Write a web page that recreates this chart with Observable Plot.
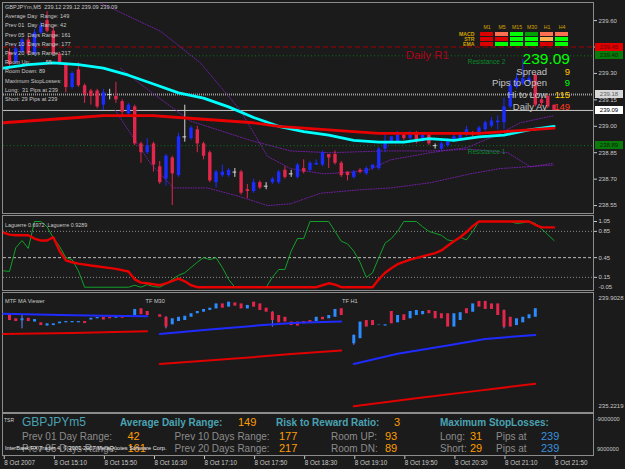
<!DOCTYPE html>
<html>
<head>
<meta charset="utf-8">
<script src="https://cdn.jsdelivr.net/npm/d3@7"></script>
<script src="https://cdn.jsdelivr.net/npm/@observablehq/plot@0.6"></script>
<style>
  html, body { margin:0; padding:0; background:#000; }
  #root { position:relative; width:625px; height:469px; background:#1b1b1b; overflow:hidden; font-family:'Liberation Sans', Arial, sans-serif; }
  .panel { position:absolute; border:1px solid #8c8c8c; box-sizing:border-box; }
  .layer { position:absolute; }
  .t { position:absolute; white-space:pre; }
</style>
</head>
<body>
<div id="root"></div>
<script>
// ---------------- DATA ----------------
// main M5 candles (bar index 0..87)
const candleOpen  = [239.42,239.36,239.42,239.49,239.41,239.53,239.60,239.54,239.41,239.35,239.22,239.32,239.23,239.20,239.20,239.12,239.18,239.17,239.14,239.07,239.11,238.90,238.85,238.90,238.77,238.70,238.82,238.72,238.94,238.93,238.98,238.90,238.85,238.68,238.72,238.72,238.74,238.74,238.64,238.63,238.68,238.66,238.68,238.68,238.75,238.73,238.71,238.76,238.75,238.78,238.78,238.84,238.84,238.79,238.74,238.71,238.75,238.73,238.76,238.76,238.87,238.91,238.91,238.95,238.93,238.96,238.92,238.95,238.89,238.87,238.89,238.92,238.93,238.95,238.96,238.96,238.98,239.00,239.02,239.02,239.11,239.22,239.24,239.25,239.29,239.15,239.17,239.12];
const candleHigh  = [239.44,239.46,239.50,239.51,239.55,239.59,239.65,239.56,239.42,239.36,239.31,239.36,239.24,239.21,239.21,239.21,239.21,239.25,239.15,239.13,239.12,238.91,238.93,238.91,238.80,238.84,238.83,238.96,239.12,239.00,239.00,238.91,238.86,238.75,238.78,238.76,238.76,238.75,238.67,238.70,238.69,238.68,238.71,238.75,238.77,238.75,238.79,238.81,238.80,238.81,238.86,238.84,238.86,238.80,238.74,238.75,238.76,238.77,238.78,238.88,238.96,238.94,238.97,238.96,238.97,238.97,238.96,238.96,238.90,238.91,238.93,238.96,238.96,239.00,238.97,239.00,239.03,239.05,239.06,239.16,239.26,239.30,239.38,239.29,239.30,239.16,239.18,239.12];
const candleLow   = [239.33,239.35,239.41,239.40,239.40,239.52,239.53,239.40,239.35,239.19,239.21,239.22,239.13,239.12,239.10,239.09,239.15,239.13,239.06,239.05,238.89,238.79,238.84,238.74,238.67,238.66,238.55,238.71,238.91,238.92,238.85,238.81,238.68,238.65,238.71,238.71,238.71,238.61,238.59,238.62,238.64,238.64,238.67,238.67,238.70,238.71,238.70,238.73,238.74,238.78,238.77,238.76,238.78,238.71,238.69,238.70,238.73,238.72,238.75,238.75,238.85,238.90,238.91,238.92,238.92,238.90,238.91,238.89,238.87,238.86,238.88,238.91,238.92,238.94,238.94,238.95,238.97,238.99,238.98,238.98,239.10,239.21,239.23,239.24,239.11,239.11,239.10,239.09];
const candleClose = [239.35,239.44,239.49,239.41,239.53,239.57,239.54,239.41,239.36,239.22,239.30,239.23,239.18,239.17,239.11,239.19,239.18,239.15,239.08,239.12,238.90,238.85,238.89,238.78,238.68,238.83,238.73,238.94,238.94,238.99,238.90,238.83,238.69,238.74,238.74,238.75,238.74,238.62,238.63,238.68,238.65,238.66,238.70,238.74,238.71,238.73,238.78,238.74,238.79,238.79,238.85,238.82,238.79,238.72,238.72,238.74,238.74,238.76,238.78,238.87,238.91,238.94,238.95,238.93,238.95,238.91,238.95,238.90,238.89,238.90,238.91,238.94,238.95,238.98,238.95,238.99,239.02,239.03,239.03,239.11,239.23,239.27,239.27,239.27,239.12,239.13,239.11,239.09];

// moving averages on the main chart [bar index, price]
const maCyan = [[-1,239.33],[3,239.35],[7,239.36],[11,239.35],[15,239.33],[19,239.29],[23,239.24],[27,239.19],[31,239.16],[35,239.11],[39,239.05],[43,239.00],[47,238.97],[51,238.95],[55,238.92],[59,238.91],[63,238.91],[67,238.93],[71,238.92],[75,238.94],[79,238.95],[83,238.98],[87,239.00]];
const maRed  = [[-1,239.02],[3,239.03],[7,239.04],[11,239.05],[15,239.06],[19,239.06],[23,239.06],[27,239.05],[31,239.04],[35,239.03],[39,239.02],[43,239.00],[47,238.99],[51,238.98],[55,238.97],[59,238.96],[63,238.96],[67,238.96],[71,238.96],[75,238.96],[79,238.97],[83,238.98],[87,238.99]];
// purple dotted envelope lines
const bandUpper  = [[14.5,239.70],[24.1,239.54],[30.5,239.36],[36.9,239.09],[41.2,238.83],[44.9,238.76],[50.2,238.73],[54.5,238.74],[57.2,238.75],[60.9,238.81],[67.3,238.85],[73.2,238.88],[78.4,238.96],[81.6,239.02],[86.9,239.06]];
const bandMiddle = [[17.7,239.33],[20.9,239.24],[28.9,239.03],[38.5,238.92],[44.9,238.86],[51.3,238.85],[59.7,238.86],[67.3,238.86],[73.6,238.87],[79.6,238.85],[83.2,238.77],[86.9,238.79]];
const bandLower  = [[16.9,239.09],[22.5,238.79],[26.2,238.65],[31.6,238.65],[36.9,238.60],[41.2,238.55],[44.9,238.56],[49.7,238.62],[56.1,238.64],[60.9,238.65],[67.3,238.68],[73.6,238.73],[78.4,238.76],[86.9,238.78]];

// horizontal levels
const dailyR1 = 239.45, resistance2 = 239.40, askLine = 239.18, bidLine = 239.09, resistance1 = 238.89;
const priceTicks = [238.55,238.70,238.85,239.00,239.15,239.30,239.45,239.60];

// Laguerre [bar index, value]
const lagFast = [[-1,.25],[0,.24],[1,.60],[2,.71],[3,.59],[4,1],[5,1],[6,.92],[7,.75],[8,.62],[9,.45],[10,.42],[11,.25],[12,0],[19,0],[20,.03],[21,0],[22,.04],[23,.01],[24,0],[25,.05],[26,.12],[27,.18],[28,.22],[29,.30],[30,.38],[31,.45],[32,.42],[33,.45],[34,.30],[35,.12],[36,0],[41,0],[42,.15],[43,.27],[44,.27],[45,.55],[46,.74],[47,.74],[48,1],[51,1],[52,.85],[53,.70],[54,.66],[55,.55],[56,.38],[57,.15],[58,.22],[59,.45],[60,.67],[61,.74],[62,.85],[63,1],[65,1],[66,.92],[67,.85],[68,.82],[69,.79],[70,.72],[71,.70],[72,.76],[73,.72],[74,.85],[75,1],[80,1],[81,.97],[82,.98],[83,1],[84,.97],[85,.89],[86,.80],[87,.71]];
const lagSlow = [[-1,.83],[0,.80],[1,.79],[3,.79],[4,.74],[5,.71],[6,.71],[7,.76],[8,.55],[9,.41],[10,.38],[11,.36],[13,.33],[17,.28],[19,.24],[20,.12],[21,.07],[22,.06],[24,.03],[25,.06],[27,.13],[28,.09],[29,.03],[30,0],[49,0],[50,.03],[51,.06],[52,.04],[53,0],[58,0],[59,.12],[60,.22],[61,.29],[62,.35],[64,.42],[66,.47],[68,.52],[69,.56],[70,.63],[71,.70],[72,.76],[73,.84],[74,.93],[75,1],[83,1],[84,.95],[85,.91],[87,.91]];
const lagLevels = [0.85, 0.45, 0.15];

// MTF MA Viewer mini charts
const m5Start = 0, m30Start = 24, h1Start = 55;
const m5Open  = [239.06,238.90,238.82,238.92,238.77,238.74,238.61,238.63,238.70,238.74,238.74,238.74,238.79,238.85,238.90,238.96,238.96,238.92,239.00,238.95,239.03,239.30,239.19];
const m5Close = [238.83,238.79,238.90,238.79,238.87,238.63,238.70,238.70,238.77,238.79,238.79,238.79,238.71,238.92,238.95,238.85,238.90,238.99,238.92,239.03,239.27,239.06,239.03];
const m30Open  = [239.06,238.96,238.66,238.79,238.83,238.96,239.10,239.16,239.23,239.29,239.49,239.36,239.53,239.49,239.29,239.56,239.49,239.32,239.16,239.03,238.96,238.77,238.77,238.79,238.83,238.79,238.96,238.90,238.96,239.30];
const m30Close = [238.96,238.57,238.90,238.96,239.00,239.10,239.19,239.27,239.32,239.49,239.32,239.56,239.40,239.29,239.43,239.36,239.23,239.16,238.83,238.74,238.77,238.63,238.61,238.70,238.74,238.96,238.86,239.03,239.27,239.03];
const h1Open  = [237.91,238.11,238.83,238.83,238.63,238.61,239.19,238.74,239.06,238.90,239.03,239.06,239.23,239.19,239.10,239.10,238.57,238.83,239.30,239.16,239.59,239.59,239.49,239.49,239.23,238.96,238.63,238.74,238.90,238.96];
const h1Close = [238.24,238.77,238.57,238.63,238.65,238.66,238.70,239.03,238.83,239.19,239.23,239.19,239.10,238.90,238.90,238.57,239.10,239.14,239.10,239.49,239.36,239.27,239.27,239.03,238.57,238.57,238.90,238.96,239.06,239.30];
const mtfWicks = [[2,238.50,239.03],[25,238.50,238.98],[42,238.57,239.18],[55,237.85,238.26],[79,238.50,239.25]];
const m5Blue  = [[-1,239.10],[8,239.05],[15,239.02],[22,239.00]];
const m5Red   = [[-1,238.30],[10,238.34],[22,238.41]];
const m30Blue = [[24,238.30],[32,238.47],[40,238.64],[46,238.74],[53,238.79]];
const m30Red  = [[24,237.11],[35,237.30],[45,237.50],[53,237.64]];
const h1Blue  = [[55,237.11],[62,237.51],[70,237.84],[76,238.10],[84,238.26]];
const h1Red   = [[55,235.43],[65,235.75],[75,236.05],[84,236.32]];
const mtfMax = 239.9028, mtfMin = 235.2219;

// time axis
const timeTickIdx = [-1,7,15,23,31,39,47,55,63,71,79,87];
const timeTickLabels = ["8 Oct 2007","8 Oct 15:10","8 Oct 15:50","8 Oct 16:30","8 Oct 17:10","8 Oct 17:50","8 Oct 18:30","8 Oct 19:10","8 Oct 19:50","8 Oct 20:30","8 Oct 21:10","8 Oct 21:50"];

// signal table
const timeframes = ["M1","M5","M15","M30","H1","H4"];
const indicators = ["MACD","STR","EMA"];
const macdSignal = ["down","weakDown","up","weakUp","weakDown","weakDown"];
const strSignal  = ["down","down","up","up","neutral","up"];
const emaSignal  = ["down","up","up","up","down","up"];

// ---------------- RENDER ----------------
const root = document.getElementById("root");
const FONT = "'Liberation Sans', Arial, sans-serif";
const X_DOMAIN = [-0.96, 93.3];
const BULL = "#1a2cff", BEAR = "#e3264c", DOJI = "#d4d4d4", MTF_BULL = "#2b8cff";
const style = (fs) => ({background:"transparent", color:"#c8c8c8", fontFamily:FONT, fontSize:fs+"px", overflow:"visible", maxWidth:"none"});
function place(svg, left, top) {
  const d = document.createElement("div");
  d.className = "layer"; d.style.left = left+"px"; d.style.top = top+"px";
  d.appendChild(svg); root.appendChild(d); return svg;
}
function txt(s, x, cy, o = {}) {
  const size = o.size || 5.6, h = Math.ceil(size*1.3);
  const d = document.createElement("div");
  d.className = "t"; d.textContent = s;
  d.style.fontSize = size+"px"; d.style.lineHeight = h+"px"; d.style.top = (cy - h/2)+"px";
  d.style.color = o.color || "#c8c8c8"; d.style.fontWeight = o.weight || "normal";
  if (o.ls) d.style.letterSpacing = o.ls+"px";
  if (o.align === "right") d.style.right = (625 - x)+"px"; else d.style.left = x+"px";
  root.appendChild(d); return d;
}
// panel frames
[[2,2,592,212],[2,215,592,76],[2,292,592,121],[2,413,592,43]].forEach(([l,t,w,h]) => {
  const p = document.createElement("div"); p.className = "panel";
  p.style.left = l+"px"; p.style.top = t+"px"; p.style.width = w+"px"; p.style.height = h+"px";
  root.appendChild(p);
});

const candles = candleOpen.map((o,i) => ({i, o, h:candleHigh[i], l:candleLow[i], c:candleClose[i]}));
const cColor = d => d.c > d.o ? BULL : d.c < d.o ? BEAR : DOJI;
const pt = {x: d => d[0], y: d => d[1]};
const bandStyle = {stroke:"#7a1fb0", strokeWidth:1, strokeDasharray:"1,1.6", strokeOpacity:0.9, clip:true};

const mainPlot = place(Plot.plot({
  width:625, height:214, marginLeft:3, marginRight:32, marginTop:3, marginBottom:1,
  x:{domain:X_DOMAIN, axis:null},
  y:{domain:[238.505, 239.697], axis:null},
  color:{type:"identity"},
  style: style(6),
  marks:[
    Plot.ruleY([dailyR1], {stroke:"#a00000", strokeDasharray:"5,3"}),
    Plot.ruleY([resistance2, resistance1], {stroke:"#0a7a1a", strokeDasharray:"1,2.5"}),
    Plot.ruleY([askLine], {stroke:"#9a9a9a", strokeWidth:2, strokeDasharray:"1,1"}),
    Plot.ruleY([bidLine], {stroke:"#c8c8c8", strokeWidth:1}),
    Plot.line(bandUpper, {...pt, ...bandStyle}),
    Plot.line(bandMiddle, {...pt, ...bandStyle}),
    Plot.line(bandLower, {...pt, ...bandStyle}),
    Plot.ruleX(candles, {x:"i", y1:"l", y2:"h", stroke:cColor, strokeWidth:1, clip:true}),
    Plot.ruleX(candles.filter(d => d.o !== d.c), {x:"i", y1:"o", y2:"c", stroke:cColor, strokeWidth:3.4, clip:true}),
    Plot.ruleY(candles.filter(d => d.o === d.c), {x1:d => d.i-0.3, x2:d => d.i+0.3, y:"o", stroke:DOJI}),
    Plot.line(maCyan, {...pt, stroke:"#00ffff", strokeWidth:2.8, clip:true}),
    Plot.line(maRed, {...pt, stroke:"#e80000", strokeWidth:2.8, clip:true}),
    Plot.text([{s:"Daily R1", i:63.3, p:dailyR1}], {x:"i", y:"p", text:"s", textAnchor:"start", dy:8.6, fill:"#b0001c", fontSize:11.4}),
    Plot.text([{s:"Resistance 2", i:73.2, p:resistance2}, {s:"Resistance 1", i:73.2, p:resistance1}], {x:"i", y:"p", text:"s", textAnchor:"start", dy:6.5, fill:"#0a8a2a", fontSize:6.5}),
    Plot.axisY(priceTicks, {anchor:"right", label:null, tickSize:3, tickPadding:2, tickFormat:d => d.toFixed(2), fontSize:6})
  ]
}), 0, 0);

// price tags on right axis
const ysc = mainPlot.scale("y");
const yMain = d3.scaleLinear(ysc.domain, ysc.range);
[[dailyR1,"#e00000","#6a0000"],[resistance2,"#0a7a0a","#022a02"],[askLine,"#d8d8d8","#606060"],[bidLine,"#ffffff","#000000"],[resistance1,"#0a7a0a","#022a02"]].forEach(([p,bg,fg]) => {
  const d = document.createElement("div");
  d.className = "t";
  d.textContent = p.toFixed(2);
  d.style.cssText += `left:595px;width:28px;height:8px;line-height:8px;font-size:6px;text-align:center;background:${bg};color:${fg};top:${yMain(p)-4}px;`;
  root.appendChild(d);
});

// info texts (top-left)
const info = ["GBPJPYm,M5  239.12 239.12 239.09 239.09","Average Day  Range: 149","Prev 01  Day  Range: 42","Prev 05  Days Range: 161","Prev 10  Days Range: 177","Prev 20  Days Range: 217","Room Up:          55","Room Down: 89","Maximum StopLosses:","Long:  31 Pips at 239","Short: 29 Pips at 239"];
info.forEach((s,k) => txt(s, 5, 7 + k*9.2, {size:5.6}));

// price panel texts (top-right)
txt("239.09", 570, 58.5, {size:15.5, color:"#00ff00", align:"right"});
[["Spread","9","#ffcc00"],["Pips to Open","9","#00ff00"],["Hi to Low","115","#ffcc00"],["Daily Av","149","#ff3a1a"]].forEach(([a,b,c],k) => {
  txt(a, 547, 71 + k*11.7, {size:9.5, color:"#c4c4c4", align:"right"});
  txt(b, 570, 71 + k*11.7, {size:9.5, color:c, align:"right"});
});

// signal grid
const sigColor = {down:"#dd0000", weakDown:"#ff7050", up:"#00ff00", weakUp:"#00a000", neutral:"#ffb050"};
const sigRows = {MACD:macdSignal, STR:strSignal, EMA:emaSignal};
const cells = indicators.flatMap(ind => timeframes.map((tf,k) => ({tf, ind, c:sigColor[sigRows[ind][k]]})));
place(Plot.plot({
  width:128, height:29, marginLeft:33, marginRight:1, marginTop:11, marginBottom:1.5,
  x:{domain:timeframes, padding:0.15, axis:null},
  y:{domain:indicators, padding:0.25, axis:null},
  color:{type:"identity"},
  style: style(5),
  marks:[
    Plot.cell(cells, {x:"tf", y:"ind", fill:"c"}),
    Plot.axisX({anchor:"top", label:null, tickSize:0, tickPadding:3, fill:"#d4a300", fontSize:5.2}),
    Plot.axisY({anchor:"left", label:null, tickSize:0, tickPadding:3, fill:"#d4a300", fontSize:5.2, fontWeight:"bold"})
  ]
}), 444, 20);

// Laguerre panel
place(Plot.plot({
  width:625, height:75, marginLeft:3, marginRight:32, marginTop:0, marginBottom:0,
  x:{domain:X_DOMAIN, axis:null},
  y:{domain:[-0.065, 1.076], axis:null},
  style: style(6),
  marks:[
    Plot.ruleY([0.85, 0.15], {stroke:"#8a8a8a", strokeDasharray:"1,2"}),
    Plot.ruleY([0.45], {stroke:"#bcbcbc", strokeDasharray:"3,2"}),
    Plot.line(lagFast, {...pt, stroke:"#12a02a", strokeWidth:1, clip:true}),
    Plot.line(lagSlow, {...pt, stroke:"#e60000", strokeWidth:2.4, clip:true}),
    Plot.axisY(lagLevels, {anchor:"right", label:null, tickSize:3, tickPadding:2, tickFormat:d => d.toFixed(2), fontSize:6}),
    Plot.axisY([1.05], {anchor:"right", label:null, tickSize:3, tickPadding:2, tickFormat:d => d.toFixed(2), dy:3.3, fontSize:6}),
    Plot.axisY([-0.05], {anchor:"right", label:null, tickSize:0, tickPadding:5, tickFormat:d => d.toFixed(2), dy:-3.3, fontSize:6})
  ]
}), 0, 216);
txt("Laguerre 0.6972  Laguerre 0.9289", 5, 225, {size:5.4});

// MTF panel
const mtf = [
  ...m5Open.map((o,k) => ({i:m5Start+k, o, c:m5Close[k]})),
  ...m30Open.map((o,k) => ({i:m30Start+k, o, c:m30Close[k]})),
  ...h1Open.map((o,k) => ({i:h1Start+k, o, c:h1Close[k]}))
];
const mtfColor = d => d.c >= d.o ? MTF_BULL : BEAR;
place(Plot.plot({
  width:625, height:120, marginLeft:3, marginRight:32, marginTop:0, marginBottom:0,
  x:{domain:X_DOMAIN, axis:null},
  y:{domain:[235.1822, 239.9425], axis:null},
  color:{type:"identity"},
  style: style(6),
  marks:[
    Plot.ruleX(mtfWicks, {x:d => d[0], y1:d => d[1], y2:d => d[2], stroke:"#6a8aff", strokeWidth:1}),
    Plot.ruleX(mtf, {x:"i", y1:"o", y2:"c", stroke:mtfColor, strokeWidth:3}),
    ...[m5Blue, m30Blue, h1Blue].map(s => Plot.line(s, {...pt, stroke:"#1f2bff", strokeWidth:2})),
    ...[m5Red, m30Red, h1Red].map(s => Plot.line(s, {...pt, stroke:"#e00000", strokeWidth:2})),
    Plot.text([mtfMax], {y:d => d, frameAnchor:"right", dx:5, dy:5, textAnchor:"start", text:d => d.toFixed(4), fill:"#c8c8c8", fontSize:6}),
    Plot.text([mtfMin], {y:d => d, frameAnchor:"right", dx:5, dy:-5, textAnchor:"start", text:d => d.toFixed(4), fill:"#c8c8c8", fontSize:6})
  ]
}), 0, 292);
txt("MTF MA Viewer", 5, 301, {size:5.6});
txt("TF M30", 145.5, 301, {size:5.6});
txt("TF H1", 342, 301, {size:5.6});

// TSR panel
const TEAL = "#4aa3b3", ORANGE = "#ff9d00", GRAY = "#8c8c8c", BLUE = "#3a90dc";
txt("TSR", 4, 420, {size:5, color:"#d0d0d0"});
txt("GBPJPYm5", 22, 422, {size:12, color:TEAL});
txt("Average Daily Range:", 120, 422, {size:10, color:TEAL, weight:"bold"});
txt("149", 238, 422, {size:11, color:ORANGE});
txt("Risk to Reward Ratio:", 276, 422, {size:10, color:TEAL, weight:"bold"});
txt("3", 394, 422, {size:11, color:ORANGE});
txt("Maximum StopLosses:", 440, 422, {size:10, color:TEAL, weight:"bold"});
[[436,"Prev 01 Day Range:","42","Prev 10 Days Range:","177","Room UP:","93","Long:","31"],
 [448,"Prev 05 Days Range:","161","Prev 20 Days Range:","217","Room DN:","89","Short:","29"]].forEach(([y,a,av,b,bv,c,cv,d,dv]) => {
  txt(a, 22, y, {size:10, color:GRAY});
  txt(av, 127.5, y, {size:11, color:ORANGE});
  txt(b, 174.6, y, {size:10, color:GRAY});
  txt(bv, 279, y, {size:11, color:ORANGE});
  txt(c, 331, y, {size:10, color:GRAY});
  txt(cv, 385, y, {size:11, color:ORANGE});
  txt(d, 440, y, {size:10, color:GRAY});
  txt(dv, 470, y, {size:11, color:ORANGE});
  txt("Pips at", 496, y, {size:10, color:GRAY});
  txt("239", 541, y, {size:11, color:BLUE});
});
txt("InterBank FX Trader 4, \u00a9 2001-2007 MetaQuotes Software Corp.", 5, 448, {size:5.6, color:"#e8e8e8"});
txt("-9000000", 596, 419, {size:5.6});
txt("9000000", 597, 449, {size:5.6});

// time axis
place(Plot.plot({
  width:625, height:14, marginLeft:3, marginRight:32, marginTop:1, marginBottom:13,
  x:{domain:X_DOMAIN, axis:null},
  style: style(6.3),
  marks:[
    Plot.axisX(timeTickIdx, {anchor:"bottom", label:null, tickSize:3, tickPadding:1, textAnchor:"start", dx:1,
      tickFormat:d => timeTickLabels[timeTickIdx.indexOf(d)], fontSize:6.3})
  ]
}), 0, 455);
</script>
</body>
</html>
